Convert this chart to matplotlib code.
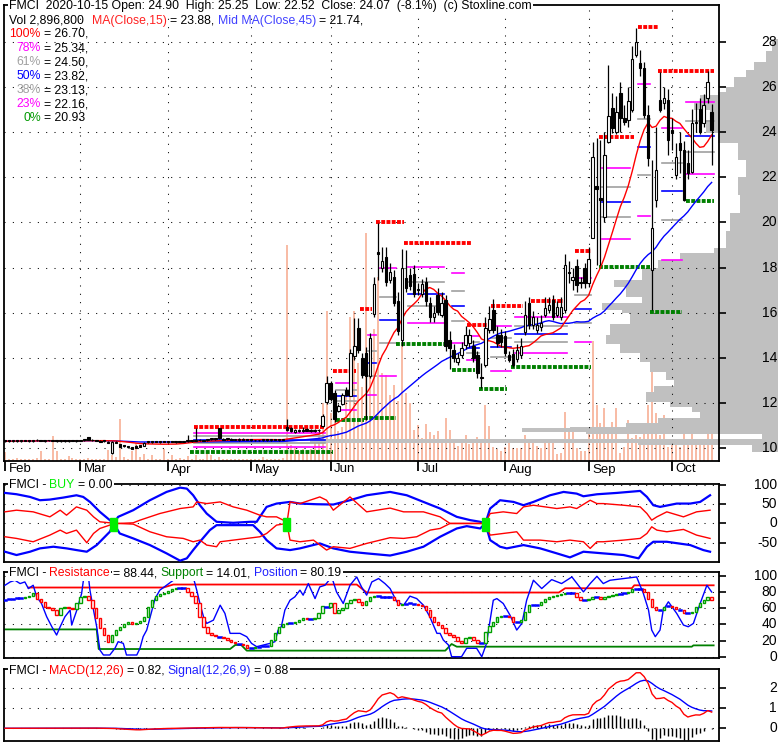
import numpy as np
import pandas as pd
import matplotlib
matplotlib.use("Agg")
import matplotlib.pyplot as plt
import matplotlib.transforms as mtransforms
from matplotlib.patches import Rectangle

# ---------------- data (FMCI daily, 2020-02-03 .. 2020-10-15) ----------------
opens = [
    # Feb
    10.34, 10.32, 10.31, 10.34, 10.33, 10.35, 10.34, 10.33, 10.36, 10.35, 10.33, 10.36, 10.34, 10.33, 10.32, 10.33, 10.32, 10.34, 10.33,
    # Mar
    10.34, 10.37, 10.48, 10.37, 10.35, 10.33, 10.32, 10.30, 9.80, 10.30, 10.18, 10.12, 10.10, 10.06, 10.12, 10.15, 10.12, 10.27, 10.28, 10.29, 10.28, 10.29,
    # Apr
    10.28, 10.29, 10.28, 10.29, 10.30, 10.33, 10.34, 10.34, 10.36, 10.35, 10.36, 10.40, 10.42, 10.88, 10.42, 10.40, 10.41, 10.38, 10.36, 10.40, 10.39,
    # May
    10.38, 10.36, 10.35, 10.36, 10.37, 10.36, 10.38, 10.37, 10.38, 10.95, 10.90, 10.74, 10.76, 10.80, 10.86, 10.80, 10.78, 10.80, 10.98, 12.07,
    # Jun
    12.91, 12.44, 11.67, 11.97, 12.57, 12.32, 14.07, 15.33, 14.01, 14.22, 13.21, 15.93, 18.70, 17.97, 18.48, 17.43, 17.59, 16.54, 14.81, 17.53, 17.68, 17.73,
    # Jul
    17.02, 16.85, 17.38, 16.42, 15.83, 16.79, 15.91, 16.56, 14.81, 14.36, 13.83, 14.13, 14.58, 14.67, 14.51, 14.13, 13.15, 13.70, 15.24, 16.12, 15.02, 15.00,
    # Aug
    14.95, 14.13, 14.18, 13.96, 14.13, 15.17, 16.42, 15.47, 15.24, 15.39, 15.90, 16.12, 16.56, 15.90, 15.83, 16.12, 17.80, 17.45, 18.05, 17.33, 17.97,
    # Sep
    17.31, 19.30, 21.60, 21.10, 20.26, 23.57, 25.06, 24.02, 25.71, 24.61, 24.54, 24.98, 27.41, 27.07, 26.82, 24.75, 17.90, 20.99, 25.42, 25.30, 25.42,
    # Oct
    24.08, 22.11, 23.52, 23.21, 22.63, 22.25, 24.39, 25.01, 24.39, 25.49, 24.90,
]
highs = [
    10.36, 10.35, 10.34, 10.37, 10.36, 10.38, 10.37, 10.36, 10.40, 10.38, 10.36, 10.39, 10.37, 10.36, 10.35, 10.36, 10.35, 10.36, 10.36,
    10.38, 10.42, 10.52, 10.40, 10.38, 10.36, 10.36, 10.33, 10.32, 10.33, 10.20, 10.14, 10.12, 10.08, 10.14, 10.17, 10.26, 10.30, 10.31, 10.31, 10.31, 10.32,
    10.31, 10.32, 10.31, 10.31, 10.34, 10.60, 10.37, 10.90, 10.40, 10.38, 10.40, 10.46, 10.45, 10.90, 10.45, 10.44, 10.44, 10.42, 10.45, 10.44, 10.42,
    10.41, 10.39, 10.38, 10.40, 10.40, 10.39, 10.41, 10.40, 10.42, 11.30, 10.94, 10.84, 10.86, 10.95, 10.90, 10.85, 10.84, 10.86, 11.50, 13.21,
    13.00, 12.60, 11.95, 12.45, 12.70, 14.40, 15.78, 15.76, 14.20, 14.50, 15.10, 17.60, 19.96, 18.90, 18.90, 18.20, 17.90, 16.90, 18.80, 18.78, 18.00, 18.10,
    17.30, 17.50, 17.60, 16.70, 16.30, 17.10, 16.90, 16.80, 15.20, 14.60, 14.20, 14.70, 15.40, 15.30, 14.80, 14.30, 13.78, 15.80, 16.30, 16.60, 15.40, 15.30,
    15.20, 14.30, 14.40, 14.60, 14.90, 16.50, 16.70, 16.10, 15.80, 15.90, 16.70, 16.70, 16.80, 16.50, 16.70, 18.60, 18.30, 18.00, 18.40, 17.60, 18.20,
    18.90, 23.57, 23.73, 23.65, 24.00, 26.96, 25.73, 25.60, 26.20, 25.20, 26.00, 27.80, 28.60, 27.63, 27.10, 25.20, 22.76, 24.23, 26.67, 26.00, 25.90,
    24.60, 23.50, 24.00, 23.60, 23.20, 25.00, 25.30, 25.50, 25.70, 26.70, 25.25,
]
lows = [
    10.28, 10.29, 10.29, 10.30, 10.30, 10.31, 10.30, 10.30, 10.32, 10.31, 10.30, 10.33, 10.31, 10.30, 10.29, 10.30, 10.30, 10.31, 10.30,
    10.31, 10.34, 10.36, 10.33, 10.32, 10.28, 10.28, 10.22, 9.75, 10.22, 10.06, 10.08, 10.02, 9.97, 10.01, 10.05, 10.10, 10.24, 10.25, 10.26, 10.25, 10.26,
    10.25, 10.26, 10.25, 10.26, 10.27, 10.30, 10.30, 10.31, 10.32, 10.31, 10.33, 10.35, 10.37, 10.40, 10.36, 10.36, 10.37, 10.35, 10.34, 10.36, 10.35,
    10.33, 10.32, 10.31, 10.33, 10.34, 10.33, 10.35, 10.34, 10.35, 10.78, 10.72, 10.70, 10.72, 10.74, 10.75, 10.74, 10.73, 10.74, 10.95, 11.95,
    12.10, 11.18, 11.60, 11.90, 12.30, 12.30, 13.90, 14.20, 13.10, 11.26, 13.10, 15.80, 17.43, 17.80, 17.20, 17.30, 16.30, 15.00, 14.51, 16.90, 17.00, 16.70,
    16.80, 16.70, 16.30, 15.60, 15.60, 15.90, 15.80, 14.30, 13.50, 13.80, 13.70, 14.00, 14.40, 14.50, 13.80, 13.10, 12.66, 13.60, 15.10, 15.10, 14.50, 14.50,
    14.10, 13.80, 13.60, 13.80, 14.00, 15.00, 15.30, 15.30, 15.10, 15.20, 15.80, 16.00, 15.70, 15.80, 15.70, 16.00, 17.30, 17.00, 16.90, 17.10, 17.10,
    17.15, 19.30, 18.12, 18.10, 20.00, 23.50, 23.96, 23.90, 24.00, 24.30, 24.20, 24.90, 27.30, 26.50, 24.60, 22.50, 16.12, 20.69, 24.90, 25.00, 23.00,
    23.20, 21.90, 22.20, 20.93, 21.90, 22.20, 24.00, 23.90, 24.20, 25.30, 22.52,
]
closes = [
    10.32, 10.31, 10.33, 10.32, 10.34, 10.33, 10.32, 10.34, 10.35, 10.33, 10.34, 10.35, 10.35, 10.32, 10.33, 10.32, 10.34, 10.33, 10.34,
    10.36, 10.38, 10.38, 10.35, 10.34, 10.30, 10.33, 10.25, 10.28, 10.25, 10.08, 10.11, 10.05, 9.99, 10.03, 10.07, 10.24, 10.27, 10.28, 10.28, 10.29, 10.28,
    10.29, 10.28, 10.29, 10.28, 10.32, 10.35, 10.33, 10.36, 10.35, 10.34, 10.37, 10.42, 10.40, 10.44, 10.38, 10.41, 10.39, 10.40, 10.43, 10.39, 10.38,
    10.36, 10.35, 10.36, 10.37, 10.36, 10.38, 10.37, 10.38, 10.40, 10.82, 10.76, 10.80, 10.82, 10.78, 10.78, 10.77, 10.80, 10.79, 11.43, 12.90,
    12.18, 11.30, 11.88, 12.37, 12.37, 14.24, 14.51, 14.36, 13.25, 13.21, 14.89, 17.28, 18.60, 18.31, 17.38, 17.82, 16.45, 15.19, 17.99, 17.09, 17.19, 16.85,
    16.99, 17.28, 16.50, 15.83, 16.01, 16.05, 16.42, 14.51, 14.44, 13.99, 13.99, 14.45, 15.02, 15.02, 13.99, 13.33, 13.10, 15.33, 15.73, 15.24, 14.67, 14.71,
    14.21, 13.92, 13.70, 14.36, 14.51, 15.90, 15.47, 15.83, 15.47, 15.55, 16.22, 16.35, 15.83, 16.27, 16.27, 18.12, 17.75, 17.60, 17.24, 17.31, 17.31,
    18.37, 22.91, 21.46, 21.00, 22.98, 24.69, 24.17, 24.90, 24.61, 24.46, 25.35, 27.22, 28.00, 26.82, 24.75, 22.84, 19.74, 22.30, 24.98, 25.51, 23.65,
    23.96, 22.91, 23.21, 20.99, 22.17, 24.38, 24.44, 24.01, 25.20, 26.23, 24.07,
]
volumes = [  # millions of shares
    0.45, 0.1, 0.1, 0.15, 0.1, 0.1, 0.1, 0.1, 0.15, 0.5, 0.1, 0.1, 1.25, 0.5, 0.1, 0.1, 0.25, 0.15, 0.1,
    0.1, 0.1, 0.15, 0.1, 0.1, 0.1, 0.1, 0.55, 0.3, 0.2, 2.1, 0.2, 0.1, 0.5, 0.9, 0.2, 0.35, 0.1, 0.3, 0.1, 0.1, 0.6,
    0.1, 0.3, 0.1, 0.15, 0.1, 0.25, 0.1, 0.3, 0.1, 0.1, 0.4, 0.3, 0.1, 0.2, 0.1, 0.1, 0.1, 0.1, 0.1, 0.1, 0.1,
    0.1, 0.1, 0.1, 0.2, 0.1, 0.1, 0.1, 0.1, 0.15, 10.8, 0.8, 0.7, 0.5, 0.6, 0.5, 0.6, 1.05, 1.4, 2.9, 7.5,
    2.4, 3.4, 1.5, 1.7, 3.2, 7.2, 7.5, 4.9, 3.7, 11.4, 5.2, 6.6, 9.2, 4.4, 4.3, 3.3, 3.8, 3.0, 5.9, 3.4, 2.9, 1.55,
    1.8, 1.15, 1.85, 1.45, 1.3, 1.5, 0.9, 2.15, 1.55, 1.05, 0.75, 0.95, 1.3, 0.85, 1.0, 1.2, 0.9, 2.8, 1.75, 0.7, 0.6, 0.5,
    0.7, 0.9, 0.65, 0.65, 0.65, 1.3, 0.9, 0.9, 0.75, 0.65, 0.9, 0.9, 0.9, 0.35, 0.4, 2.45, 1.45, 1.7, 0.65, 0.5, 0.5,
    1.45, 6.0, 2.8, 1.9, 2.65, 1.55, 1.95, 2.65, 0.4, 0.7, 2.05, 1.15, 1.3, 1.2, 1.35, 2.8, 7.4, 2.4, 1.3, 2.3, 0.7,
    0.8, 0.8, 0.7, 1.8, 0.95, 1.45, 0.9, 0.95, 0.9, 1.6, 2.9,
]

month_names = ['Feb', 'Mar', 'Apr', 'May', 'Jun', 'Jul', 'Aug', 'Sep', 'Oct']
month_start = [0, 19, 41, 62, 82, 104, 126, 147, 168]

# resistance / support levels (day from, day to, price)
res_from = [48, 83, 90, 94, 101, 117, 123, 133, 144, 150, 160, 165]
res_to = [80, 88, 92, 100, 117, 121, 130, 140, 147, 158, 164, 178]
res_level = [10.96, 13.41, 16.15, 20.0, 19.09, 15.45, 16.3, 16.52, 18.75, 23.77, 28.63, 26.70]
sup_from = [47, 84, 91, 99, 113, 120, 128, 150, 163, 172]
sup_to = [82, 90, 98, 110, 118, 126, 147, 162, 170, 178]
sup_level = [9.82, 11.26, 11.36, 14.6, 13.47, 12.63, 13.59, 18.03, 16.05, 20.93]

# fibonacci retracement segments (day from, day to, high, low)
fib_from = [48, 84, 92, 95, 102, 113, 117, 123, 129, 144, 151, 160, 166, 172]
fib_to = [80, 88, 93, 98, 110, 115, 119, 127, 141, 147, 157, 162, 170, 178]
fib_hi = [10.96, 13.41, 16.15, 20.0, 19.09, 19.09, 15.45, 16.3, 16.52, 18.75, 23.77, 28.63, 26.70, 26.70]
fib_lo = [9.82, 11.26, 11.36, 11.36, 14.6, 13.47, 13.47, 12.63, 13.59, 13.59, 18.03, 18.03, 16.05, 20.93]
fib_ratio = [0.764, 0.618, 0.5, 0.382, 0.213]
fib_labels = ['100%', '78%', '61%', '50%', '38%', '23%', '0%']
fib_values = ['= 26.70,', '= 25.34,', '= 24.50,', '= 23.82,', '= 23.13,', '= 22.16,', '= 20.93']

# volume-by-price profile (price bin edges, volume units)
prof_edges = [9.85, 10.14, 10.25, 10.43, 10.62, 10.71, 10.89, 10.96, 11.13, 11.33,
              11.62, 11.85, 12.07, 12.51, 12.74, 13.03, 13.4, 13.8, 14.2, 14.6,
              15.0, 15.5, 15.98, 16.12, 16.42, 16.71, 17.15, 17.45, 17.97, 18.34,
              18.63, 18.85, 19.6, 20.4, 21.2, 22.0, 22.76, 23.5, 23.94, 24.53,
              24.97, 25.27, 25.64, 25.78, 25.99, 26.43, 26.74, 27.1, 27.6, 28.1]
prof_vol = [6.5, 35, 117, 4, 48, 64, 52, 38, 30, 19.5, 21.5, 27, 33, 31, 26, 28, 32, 34.5, 39.5, 43,
            42, 37, 39, 44, 34, 38, 41, 34, 30, 24.5, 16, 13, 12, 9.5, 10, 8, 10, 15, 18, 17,
            21, 19.5, 15, 13, 11, 8, 6, 3, 1.5]

# BUY oscillator (day, value)
bu_x = [0, 2.9, 6.3, 8.8, 11.3, 14.7, 18, 19.7, 21.4, 23.9, 26.4, 27.4, 28.5, 32.3, 36.5, 40.7, 44.1, 45.8, 47.4, 49.1,
        50.8, 53.3, 57.5, 61.7, 63.4, 64.2, 65.9, 68.4, 71.8, 74.3, 78.5, 82.7, 86.9, 91.1, 97, 101.2, 105.4, 109.6, 113.8, 117.2,
        119.7, 121, 122.2, 124.7, 128.1, 130.6, 133.1, 137.3, 140.7, 144, 145.7, 149.1, 154.1, 160, 161.7, 163.3, 165, 169.2, 172.6, 175.1, 177.6]
bu_v = [79.4, 76, 69, 60.4, 62.1, 67.3, 73.3, 69, 56, 30.2, 8.6, 0, 17.2, 34.5, 60.4, 82, 93.2, 90.6, 73.3, 47.4,
        25.8, 4.3, 1.7, 4.3, 4.3, 17.2, 43.1, 51.7, 56, 51.7, 50, 49.2, 60.4, 73.3, 82, 73.3, 56, 38.8, 17.2, 8.6,
        4.3, 0, 38.8, 60.4, 56, 47.4, 56, 73.3, 82, 77.6, 70.7, 75.9, 79.4, 84.6, 69, 47.4, 43.1, 51.7, 51.7, 56, 73.3]
bl_x = [0, 2.9, 6.3, 8.8, 12.2, 15.5, 18, 20.6, 23.1, 26.4, 27.4, 28.9, 32.3, 36.5, 40.7, 44.1, 45.8, 47.4, 49.1, 51.6,
        53.3, 57.5, 62.5, 64.2, 65.9, 68.4, 71.8, 74.3, 79.3, 82.7, 86.9, 91.1, 97, 101.2, 105.4, 109.6, 113.8, 116.3, 119.7, 121,
        122.2, 124.7, 126.4, 130.6, 134.8, 139, 142.3, 145.7, 150.7, 155.8, 159.6, 161.7, 163.3, 166.7, 172.6, 175.9, 177.6]
bl_v = [-73.5, -82.1, -73.5, -64.8, -60.5, -64.8, -69.2, -73.5, -56.2, -21.6, 0, -26, -38.9, -56.2, -77.8, -96.8, -90.7, -69.2, -47.6, -17.3,
        -4.4, -4.4, -4.4, -21.6, -43.3, -64.8, -69.2, -64.8, -51.9, -64.8, -73.5, -77.8, -83.4, -73.5, -60.5, -34.6, -13, -7, -13, 0,
        -43.3, -60.5, -64.8, -56.2, -64.8, -77.8, -88.2, -73.5, -77.8, -82.1, -90.7, -60.5, -47.6, -47.6, -56.2, -69.2, -73.5]
ru_x = [0, 2.9, 7.1, 11.3, 13.9, 15.5, 18, 20.6, 22.3, 23.9, 26.4, 27.4, 28.5, 32.3, 34, 39, 44.1, 47.4, 48.3, 50.8,
        54.2, 57.5, 60.9, 64.2, 65.9, 68.4, 70.1, 71, 71.8, 74.3, 79.3, 81, 82.7, 86.9, 91.1, 97, 100.4, 105.4, 109.6, 112.1,
        119.7, 121, 122.2, 125.5, 128.9, 130.6, 133.1, 139, 142.3, 144, 147.4, 149.1, 150.7, 155.8, 160, 161.7, 162.9, 164.2, 166.7, 170.9,
        174.2, 177.6]
ru_v = [30.2, 34.5, 30.2, 17.2, 34.5, 21.5, 43.1, 34.5, 17.2, 4.3, 1.7, 0, 0, 1.7, 8.6, 25.8, 38.8, 43.1, 56, 51.7,
        56, 43.1, 34.5, 21.5, 17.2, 17.2, 8.6, 0, 56, 51.7, 69, 60.4, 34.5, 69, 30.2, 40, 30.2, 30.2, 17.2, 0,
        0, 0, 25.8, 30.2, 25.8, 43.1, 47.4, 38.8, 43.1, 38.8, 60.4, 51.7, 51.7, 47.4, 43.1, 25.8, 8.6, 17.2, 30.2, 17.2,
        30.2, 34.5]
rl_x = [0, 2.9, 7.1, 11.3, 13.9, 15.5, 18, 20.6, 22.3, 23.9, 26.4, 27.4, 28.5, 32.3, 36.5, 40.7, 44.9, 47.4, 49.1, 50.8,
        53.3, 54.2, 57.5, 60.9, 64.2, 65.9, 68.4, 71, 71.8, 74.3, 77.7, 81, 82.7, 86.9, 91.1, 97, 100.4, 103.7, 107.1, 109.6,
        112.1, 119.7, 121, 122.2, 125.5, 128.9, 130.6, 134.8, 139, 142.3, 145.7, 147.4, 149.1, 150.7, 155.8, 160, 161.7, 162.9, 164.2, 166.7,
        170.9, 174.2, 177.6]
rl_v = [-34.6, -38.9, -47.6, -30.3, -17.3, -26, -17.3, -50.1, -26, -13, -4.3, 0, 0, -1.7, -21.6, -34.6, -38.9, -47.6, -43.3, -56.2,
        -60.5, -47.6, -43.3, -38.9, -34.6, -26, -4.3, 0, -43.3, -47.6, -43.3, -69.2, -60.5, -64.8, -51.9, -37, -38.9, -34.6, -17.3, -13,
        0, 0, 0, -30.3, -26, -21.6, -43.3, -43.3, -47.6, -43.3, -47.6, -64.8, -47.6, -47.6, -43.3, -38.9, -26, -8.7, -17.3, -21.6,
        -15.5, -30.3, -38.9]
buy_days = [27.4, 71, 121]

# Resistance / Support / Position panel
pos_x = [0, 1.3, 2.5, 3.8, 5, 5.9, 7.1, 8, 9.2, 10.5, 11.8, 13, 13.9, 15.1, 16.4, 16.8, 18.1, 19.3, 19.9, 21,
         21.4, 22.3, 23.1, 23.9, 24.8, 26.4, 27.7, 28.5, 29.8, 30.6, 33.2, 34, 34.8, 35.7, 37.8, 39, 40.7, 42.4, 44.1, 45.8,
         47.4, 48.3, 49.1, 50, 50.8, 52.5, 54.2, 55.4, 56.7, 59.2, 60.9, 62.1, 63.4, 65.1, 66.8, 68, 68.8, 69.6, 70.5, 71.8,
         73, 74.3, 75.1, 76.4, 78.1, 79.3, 80.6, 82.3, 83.5, 85.2, 86.9, 88.6, 89.8, 91.1, 92.4, 94.1, 95.7, 97, 98.7, 100.4,
         102, 103.7, 105.4, 107, 108.8, 109.6, 110.4, 111.7, 112.5, 115, 116.3, 118.8, 120.1, 121.3, 121.8, 123, 123.9, 125.5, 127.2, 128.9,
         130.2, 131.4, 133.1, 135.2, 137.7, 140.2, 142.8, 145.7, 147.4, 149.1, 150.7, 152.4, 155.8, 159.1, 160.8, 162.1, 162.9, 163.8, 165, 165.8,
         167.1, 169.2, 170.9, 172.1, 173.4, 175.1, 176.8, 178]
pos_v = [88.5, 92.6, 94.7, 90.6, 92.6, 84.4, 88.5, 74.1, 65.9, 49.5, 37.1, 26.8, 37.1, 49.5, 57.7, 39.2, 57.7, 78.3, 100, 100,
         82.4, 57.7, 37.1, 8.3, 2.1, 2.1, 10.4, 18.6, 16.5, 2.1, 2.1, 10.4, 24.8, 33, 72, 82.4, 88.5, 94.7, 98.8, 99.6,
         98.8, 82.4, 65.9, 49.5, 41.2, 45.3, 63.8, 53.6, 28.9, 28.9, 24.7, 16.5, 12.4, 14.5, 16.5, 18.6, 33, 37.1, 57.7, 70,
         74.1, 82.4, 76.2, 90.6, 72, 86.5, 88.5, 98.8, 80.3, 65.9, 88.5, 98.8, 86.5, 76.2, 92.6, 96.8, 90.6, 84.4, 68, 63.8,
         75, 72, 63.8, 49.5, 28.9, 28.9, 20.7, 14.5, 0, 0, 10.4, 10.4, 0, 16.5, 33, 70, 72, 65.9, 51.5, 33,
         41.2, 70, 94.7, 84.4, 95.5, 90.6, 98.8, 80.3, 90.6, 99.6, 90.6, 94.7, 96.8, 98.8, 78.3, 57.7, 33, 24.8, 33, 57.7,
         68, 53.6, 39.2, 37.1, 41.2, 65.9, 88.5, 80.19]
pos_signal = [
    70.8, 71.5, 72, 72.5, 73, 74, 75, 79, 72, 68, 62, 60, 58, 51.5, 60, 62, 60, 58.5, 66,
    74, 75, 70, 60, 47.4, 35, 26.8, 18.6, 26.8, 33, 37, 41, 42.4, 41, 42, 44, 49.5, 62, 70, 75, 77.4, 79,
    81.5, 83.6, 84.8, 85.7, 85, 80.3, 75, 66, 49.5, 37, 28.9, 27, 25.5, 24.8, 22.7, 20.7, 18.6, 16.5, 15.7, 14.5, 10.4,
    10.4, 12.4, 12.4, 13.2, 13.2, 20.7, 28.9, 37, 41, 42, 41.2, 43.3, 45.3, 47.4, 46.1, 46.1, 47.4, 53.6, 62.6, 61.8,
    66, 54.4, 57.7, 60, 66, 70.8, 72, 68, 63.8, 69, 74, 75, 75, 74.1, 74, 74, 70, 64, 65, 65.5, 65.9, 65,
    64, 62.6, 57.7, 49.5, 43.3, 39, 35, 28.9, 26.8, 24, 19.8, 17.4, 22.7, 24.8, 20.7, 17.4, 17, 30, 38, 43.3, 49.5, 50.7,
    50.7, 48.6, 43.3, 43.3, 45.3, 55.6, 63.8, 63.8, 63.8, 68, 72, 74, 75, 76.2, 77.4, 79, 78.5, 78.3, 74, 70.8, 70.8,
    72, 74, 74, 72, 74, 75, 76.2, 77.4, 77.4, 78.3, 80.3, 84.4, 84.4, 84.4, 80.3, 72, 61.8, 57.7, 57.7, 61.8, 62.6,
    61, 58.5, 57.7, 54.4, 54.4, 55.6, 61.8, 66, 70, 74, 70,
]
res_px = [5.9, 39.9, 42.4, 88.6, 91.1, 139.5, 141.1, 157.9, 158.5, 178.5]
res_pv = [85.7, 85.7, 89.4, 89.4, 79.5, 79.5, 84.8, 84.8, 88.44, 88.44]
sup_px = [0, 23.1, 23.6, 56.7, 58, 59.5, 60.9, 110.9, 112.5, 113.8, 173, 173.4, 178.5]
sup_pv = [33.8, 33.8, 9.5, 9.5, 14.5, 14.5, 7.5, 7.5, 15.7, 12.4, 12.4, 14.01, 14.01]

# ---------------- figure ----------------
W, H = 780, 745
plt.rcParams['font.family'] = ['Liberation Sans', 'DejaVu Sans']
DOT = (0, (1, 7))
XLIM = (-0.25, 179.85)
FS = 8.8

fig = plt.figure(figsize=(W / 100, H / 100), dpi=100)
fig.patch.set_facecolor('white')


def px_rect(left, top, right, bottom):
    return [left / W, 1 - bottom / H, (right - left) / W, (bottom - top) / H]


def style_panel(a, ylim, ticks, labels):
    a.set_xlim(*XLIM)
    a.set_ylim(*ylim)
    a.yaxis.tick_right()
    a.set_yticks(ticks)
    a.tick_params(axis='y', direction='out', length=5, width=1.2,
                  labelright=False, labelleft=False)
    for s in a.spines.values():
        s.set_linewidth(1.3)
    tr = mtransforms.blended_transform_factory(a.transAxes, a.transData)
    for t, lab in zip(ticks, labels):
        a.text((777 - 4) / 715, t, lab, transform=tr, ha='right', va='center',
               fontsize=10, clip_on=False)
    for t in ticks:
        a.axhline(t, color='black', lw=0.75, ls=DOT, zorder=1)


n = len(closes)
x = np.arange(n)
o = np.array(opens)
c = np.array(closes)
hi = np.array(highs)
lo = np.array(lows)

# volume layer
ax_vol = fig.add_axes(px_rect(4, 5, 719, 461), zorder=0)
ax_vol.vlines(x, 0, volumes, color='#F7A88C', lw=1.1)
ax_vol.set_xlim(*XLIM)
ax_vol.set_ylim(0, 22.8)
ax_vol.axis('off')

# volume-by-price profile layer
ax_prof = fig.add_axes(px_rect(4, 5, 778, 461), zorder=1)
edges = np.array(prof_edges)
ax_prof.barh(edges[:-1], prof_vol, height=np.diff(edges), align='edge',
             color='#C0C0C0', lw=0)
ax_prof.set_xlim(774 / 4, 0)
ax_prof.set_ylim(9.44, 29.62)
ax_prof.axis('off')
ax_prof.patch.set_alpha(0)

# price panel
ax = fig.add_axes(px_rect(4, 5, 719, 461), zorder=2)
ax.patch.set_alpha(0)
style_panel(ax, (9.44, 29.62), list(range(10, 30, 2)), [str(v) for v in range(10, 30, 2)])
ax.set_xticks(month_start)
ax.tick_params(axis='x', direction='out', length=7, width=1.3, labelbottom=False)
for m in month_start[1:]:
    ax.axvline(m, color='black', lw=0.75, ls=DOT, zorder=1)
trx = mtransforms.blended_transform_factory(ax.transData, ax.transAxes)
for m, name in zip(month_start, month_names):
    ax.text(m + 0.9, -8.5 / 456, name, transform=trx, ha='left', va='center',
            fontsize=9.5, clip_on=False)

fib_colors = ['#FF00FF', '#A0A0A0', '#0000FF', '#A0A0A0', '#FF00FF']
for a, b, h_, l_ in zip(fib_from, fib_to, fib_hi, fib_lo):
    for r, col in zip(fib_ratio, fib_colors):
        lvl = l_ + (h_ - l_) * r
        ax.plot([a - 0.5, b + 0.5], [lvl, lvl], color=col, lw=1.2, zorder=2)
for a, b, v in zip(res_from, res_to, res_level):
    ax.plot([a - 0.5, b + 0.5], [v, v], color='#FF0000', lw=2.8,
            ls=(0, (1, 0.35)), dash_capstyle='butt', zorder=2.5)
for a, b, v in zip(sup_from, sup_to, sup_level):
    ax.plot([a - 0.5, b + 0.5], [v, v], color='#008000', lw=2.8,
            ls=(0, (1, 0.35)), dash_capstyle='butt', zorder=2.5)

cs = pd.Series(c)
ax.plot(x, cs.rolling(45, min_periods=1).mean(), color='#0000FF', lw=1, zorder=3)
ax.plot(x, cs.rolling(15, min_periods=1).mean(), color='#FF0000', lw=1, zorder=3)

ax.vlines(x, lo, hi, color='black', lw=0.9, zorder=4)
up = c >= o
body = np.maximum(np.abs(c - o), 0.04)
ax.bar(x[up], body[up], bottom=np.minimum(o, c)[up], width=0.62,
       color='white', edgecolor='black', lw=0.8, zorder=5)
ax.bar(x[~up], body[~up], bottom=np.minimum(o, c)[~up], width=0.62,
       color='black', edgecolor='black', lw=0.8, zorder=5)

# BUY panel
ax_buy = fig.add_axes(px_rect(4, 484, 719, 562.3))
style_panel(ax_buy, (-101, 102.6), [100, 50, 0, -50], ['100', '50', '0', '-50'])
ax_buy.set_xticks([])
ax_buy.plot(bu_x, bu_v, color='#0000FF', lw=1.6, zorder=3)
ax_buy.plot(bl_x, bl_v, color='#0000FF', lw=1.6, zorder=3)
ax_buy.plot(ru_x, ru_v, color='#FF0000', lw=1, zorder=3)
ax_buy.plot(rl_x, rl_v, color='#FF0000', lw=1, zorder=3)
for d in buy_days:
    ax_buy.add_patch(Rectangle((d - 0.9, -20), 1.8, 35, color='#00EE00', zorder=4))

# Resistance / Support / Position panel
ax_pos = fig.add_axes(px_rect(4, 571.7, 719, 658.3))
style_panel(ax_pos, (-2, 105.3), [100, 80, 60, 40, 20, 0],
            ['100', '80', '60', '40', '20', '0'])
ax_pos.set_xticks([])
ax_pos.plot(res_px, res_pv, color='#FF0000', lw=1.3, zorder=2)
ax_pos.plot(sup_px, sup_pv, color='#008000', lw=1.3, zorder=2)
ax_pos.plot(pos_x, pos_v, color='#0000FF', lw=1, zorder=3)
sig = np.array(pos_signal)
prev = np.r_[sig[0], sig[:-1]]
for i in range(n):
    d = sig[i] - prev[i]
    if abs(d) < 1.0:
        ax_pos.plot([i - 0.35, i + 0.35], [sig[i], sig[i]], color='#0000FF', lw=1.8, zorder=4)
    else:
        col = '#00A000' if d > 0 else '#FF0000'
        ax_pos.add_patch(Rectangle((i - 0.3, min(sig[i], prev[i])), 0.6, abs(d),
                                   fc='white', ec=col, lw=1, zorder=4))

# MACD panel
ax_macd = fig.add_axes(px_rect(4, 669, 719, 741))
style_panel(ax_macd, (-0.635, 2.965), [2, 1, 0], ['2', '1', '0'])
ax_macd.set_xticks([])
macd = cs.ewm(span=12, adjust=False).mean() - cs.ewm(span=26, adjust=False).mean()
signal = macd.ewm(span=9, adjust=False).mean()
ax_macd.vlines(x, 0, macd - signal, color='black', lw=1, zorder=2)
ax_macd.plot(x, signal, color='#0000FF', lw=1, zorder=3)
ax_macd.plot(x, macd, color='#FF0000', lw=1, zorder=3)

# ---------------- texts ----------------
renderer = fig.canvas.get_renderer()
BOX = dict(boxstyle='square,pad=0.12', fc='white', ec='none')


def text_run(x_px, y_px, parts, size=FS, box=True):
    xx = x_px
    for s, col, gap in parts:
        t = fig.text((xx + gap) / W, 1 - y_px / H, s, color=col, fontsize=size,
                     ha='left', va='center', bbox=BOX if box else None, zorder=5)
        xx = t.get_window_extent(renderer=renderer).x1
    return xx


text_run(9, 6, [('FMCI  2020-10-15 Open: 24.90  High: 25.25  Low: 22.52  Close: 24.07  '
                 '(-8.1%)  (c) Stoxline.com', 'black', 0)])
text_run(9, 20.7, [('Vol 2,896,800', 'black', 0), ('MA(Close,15)', '#FF2020', 8),
                   ('= 23.88,', 'black', 3), ('Mid MA(Close,45)', '#4040FF', 3.5),
                   ('= 21.74,', 'black', 3)], box=False)
fib_text_colors = ['#FF0000', '#FF00FF', '#A0A0A0', '#0000FF', '#A0A0A0', '#FF00FF', '#009900']
for k, (lab, val, col) in enumerate(zip(fib_labels, fib_values, fib_text_colors)):
    yk = 34 + 14.05 * k
    t = fig.text(41 / W, 1 - yk / H, lab, color=col, fontsize=FS, ha='right', va='center')
    x1 = t.get_window_extent(renderer=renderer).x1
    fig.text((x1 + 3) / W, 1 - yk / H, val, color='black', fontsize=FS, ha='left', va='center')

text_run(9, 485, [('FMCI -', 'black', 0), ('BUY', '#00EE00', 3), ('= 0.00', 'black', 3)])
text_run(9, 573.3, [('FMCI -', 'black', 0), ('Resistance', '#FF0000', 3), ('= 88.44,', 'black', 3),
                    ('Support', '#008000', 3), ('= 14.01,', 'black', 3),
                    ('Position', '#2020FF', 3), ('= 80.19', 'black', 3)])
text_run(9, 670.7, [('FMCI -', 'black', 0), ('MACD(12,26)', '#FF0000', 3), ('= 0.82,', 'black', 3),
                    ('Signal(12,26,9)', '#2020FF', 3), ('= 0.88', 'black', 3)])

fig.savefig('out.png', dpi=100, facecolor='white')
